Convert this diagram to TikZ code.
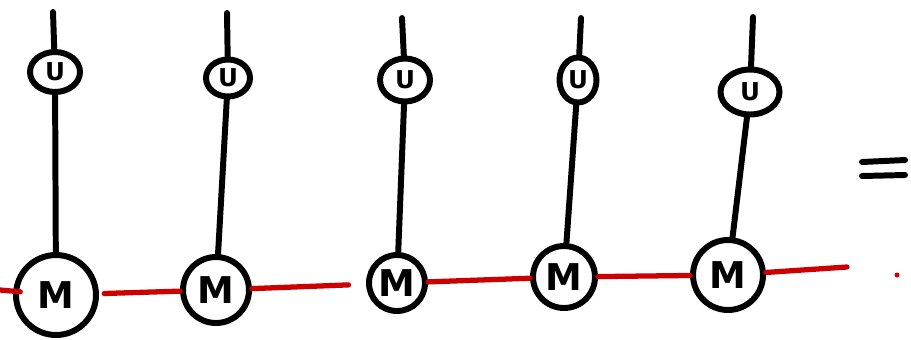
\documentclass[tikz,border=0pt]{standalone}
\usepackage{fontspec}
\setmainfont{DejaVu Sans}
\usetikzlibrary{shapes.geometric}
\definecolor{tred}{RGB}{204,0,0}
\begin{document}
\begin{tikzpicture}[x=0.02cm,y=-0.02cm,
  ink/.style={line width=3.4pt,line cap=round,black},
  redline/.style={line width=3pt,line cap=round,tred},
  ubox/.style={ellipse,draw,ink,inner sep=0pt,font=\fontsize{14}{14}\selectfont\bfseries},
  mbox/.style={circle,draw,ink,inner sep=0pt,font=\fontsize{21}{21}\selectfont\bfseries}]
\useasboundingbox (0,0) rectangle (911,339);
% column 1
\node[ubox,minimum width=1.0cm,minimum height=0.8cm] (u1) at (55,72) {U};
\node[mbox,minimum size=1.6cm] (m1) at (56,295) {M};
\coordinate (t1) at (53,12);
% column 2
\node[ubox,minimum width=0.88cm,minimum height=0.74cm] (u2) at (228,78) {U};
\node[mbox,minimum size=1.32cm] (m2) at (216,290) {M};
\coordinate (t2) at (227,13);
% column 3
\node[ubox,minimum width=1.0cm,minimum height=0.86cm] (u3) at (405,80) {U};
\node[mbox,minimum size=1.12cm] (m3) at (397,283) {M};
\coordinate (t3) at (402,18);
% column 4
\node[ubox,minimum width=0.74cm,minimum height=0.9cm] (u4) at (578,80) {U};
\node[mbox,minimum size=1.24cm] (m4) at (564,277) {M};
\coordinate (t4) at (581,18);
% column 5
\node[ubox,minimum width=1.18cm,minimum height=0.9cm] (u5) at (750,92) {U};
\node[mbox,minimum size=1.4cm] (m5) at (728,275) {M};
\coordinate (t5) at (753,17);
% vertical legs
\foreach \i in {1,...,5}{
  \draw[ink] (t\i) -- (u\i);
  \draw[ink] (u\i) -- (m\i);
}
% red bond
\coordinate (r0) at (0,290);
\coordinate (r6) at (847,267);
\draw[redline,shorten >=-4pt] (r0) -- (m1);
\draw[redline,shorten <=3pt] (m1) -- (m2);
\draw[redline,shorten >=10pt] (m2) -- (m3);
\draw[redline] (m3) -- (m4);
\draw[redline] (m4) -- (m5);
\draw[redline] (m5) -- (r6);
% equals sign and dot
\coordinate (e1) at (862,162); \coordinate (e2) at (905,160);
\coordinate (e3) at (862,176); \coordinate (e4) at (905,175);
\draw[ink] (e1) -- (e2);
\draw[ink] (e3) -- (e4);
\node[circle,fill=tred,inner sep=0pt,minimum size=0.1cm] (dot) at (897,275) {};
\end{tikzpicture}
\end{document}
